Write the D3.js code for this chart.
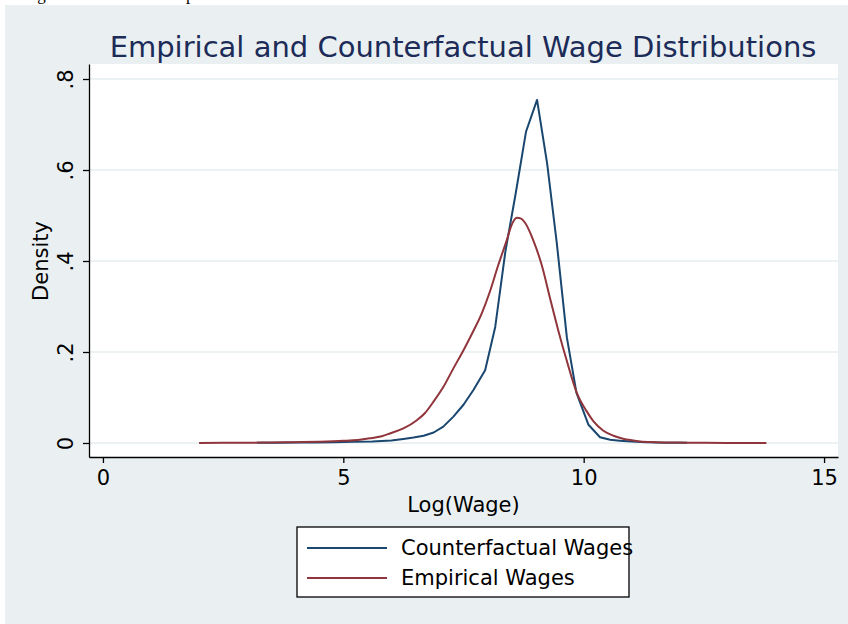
<!DOCTYPE html>
<html>
<head>
<meta charset="utf-8">
<script src="https://cdn.jsdelivr.net/npm/d3@7"></script>
<style>
  body { margin: 0; background: #ffffff; }
  svg { display: block; }
  text { font-family: "DejaVu Sans", sans-serif; }
</style>
</head>
<body>
<svg class="chart"></svg>
<script>
//-----------------------------------------------------------------------
// kernel density lines: empirical vs counterfactual log wages
//-----------------------------------------------------------------------
const width = 848
const height = 624

// counterfactual wages (density)
const cfX = [3.20, 3.60, 4.00, 4.40, 4.80, 5.20, 5.60, 6.00, 6.25, 6.46, 6.67, 6.88, 7.08, 7.29,
  7.50, 7.71, 7.95, 8.16, 8.37, 8.58, 8.80, 9.03, 9.24, 9.44, 9.65, 9.85, 10.10, 10.34,
  10.55, 10.75, 11.00, 11.30, 11.70, 12.15]
const cfY = [0.0003, 0.0005, 0.0008, 0.0012, 0.0018, 0.0025, 0.0035, 0.0055, 0.009, 0.012, 0.016, 0.023, 0.036, 0.058,
  0.084, 0.117, 0.160, 0.255, 0.420, 0.545, 0.684, 0.754, 0.614, 0.440, 0.232, 0.110, 0.040, 0.0125,
  0.007, 0.005, 0.003, 0.0015, 0.0007, 0.0003]

// empirical wages
const empX = [2.0, 2.5, 3.0, 3.5, 4.0, 4.5, 5.0, 5.3, 5.55, 5.8, 5.97, 6.25, 6.53, 6.7, 6.87, 7.08,
  7.29, 7.50, 7.70, 7.88, 8.05, 8.22, 8.40, 8.50, 8.61, 8.70, 8.78, 8.95, 9.13, 9.30, 9.47,
  9.65, 9.85, 10.06, 10.20, 10.41, 10.62, 10.82, 11.0, 11.17, 11.5, 12.0, 12.5, 13.0, 13.8]
const empY = [0.0002, 0.0003, 0.0006, 0.001, 0.0017, 0.0028, 0.0048, 0.0068, 0.0103, 0.015, 0.021, 0.032, 0.050, 0.066, 0.090, 0.123,
  0.164, 0.204, 0.245, 0.285, 0.333, 0.390, 0.446, 0.479, 0.495, 0.493, 0.484, 0.446, 0.390, 0.318, 0.248,
  0.180, 0.112, 0.070, 0.048, 0.027, 0.016, 0.0095, 0.006, 0.0035, 0.0018, 0.0008, 0.0004, 0.0002, 0.0001]

const xTicks = [0, 5, 10, 15]
const yTicks = [0, 0.2, 0.4, 0.6, 0.8]
const yTickLabels = ["0", ".2", ".4", ".6", ".8"]
const seriesNames = ["Counterfactual Wages", "Empirical Wages"]
const seriesColors = ["#1a476f", "#90353b"]

const plot = ({left: 89, right: 838, top: 64, bottom: 457})

const svg = d3.select('svg.chart')
  .attr('width', width)
  .attr('height', height)

// outer graph region
svg.append('rect')
  .attr('x', 5).attr('y', 5)
  .attr('width', width - 5).attr('height', height - 5)
  .attr('fill', '#eaf0f2')

// bit of page caption peeking in at the very top
svg.append('text')
  .attr('x', 23).attr('y', 0)
  .style('font-family', '"Liberation Serif", serif')
  .style('font-size', '17px')
  .attr('fill', '#000')
  .text('Figure 4: Simulated Empirical')

// plot region
svg.append('rect')
  .attr('x', plot.left).attr('y', plot.top)
  .attr('width', plot.right - plot.left).attr('height', plot.bottom - plot.top)
  .attr('fill', '#ffffff')

const xScale = d3.scaleLinear()
  .domain([-0.29, 15.29])
  .range([plot.left, plot.right])

const yScale = d3.scaleLinear()
  .domain([-0.0308, 0.833])
  .range([plot.bottom, plot.top])

// grid lines
svg.append('g')
  .selectAll('line')
  .data(yTicks)
  .join('line')
    .attr('x1', plot.left).attr('x2', plot.right)
    .attr('y1', d => yScale(d)).attr('y2', d => yScale(d))
    .attr('stroke', '#e6eef1')
    .attr('stroke-width', 1.5)

// axes
const xAxis = d3.axisBottom(xScale)
  .tickValues(xTicks)
  .tickSize(6)
  .tickSizeOuter(0)
  .tickFormat(d3.format('d'))

const xAxisGroup = svg.append('g')
  .attr('class', 'xAxis')
  .attr('transform', `translate(0, ${plot.bottom})`)
  .call(xAxis)

xAxisGroup.selectAll('text')
  .attr('y', 13)
  .style('font-size', '21px')
  .attr('fill', '#000')

const yAxis = d3.axisLeft(yScale)
  .tickValues(yTicks)
  .tickSize(6)
  .tickSizeOuter(0)
  .tickFormat((d, i) => yTickLabels[i])

const yAxisGroup = svg.append('g')
  .attr('class', 'yAxis')
  .attr('transform', `translate(${plot.left}, 0)`)
  .call(yAxis)

yAxisGroup.selectAll('.tick text')
  .attr('x', null).attr('dy', null)
  .attr('text-anchor', 'middle')
  .attr('transform', 'translate(-16, 0) rotate(-90)')
  .style('font-size', '21px')
  .attr('fill', '#000')

svg.selectAll('.domain, .tick line')
  .attr('stroke', '#000')
  .attr('stroke-width', 1.3)

// axis titles
svg.append('text')
  .attr('x', (xScale(0) + xScale(15)) / 2)
  .attr('y', 512)
  .attr('text-anchor', 'middle')
  .style('font-size', '21px')
  .text('Log(Wage)')

svg.append('text')
  .attr('transform', `translate(48, ${yScale(0.4)}) rotate(-90)`)
  .attr('text-anchor', 'middle')
  .style('font-size', '21px')
  .text('Density')

// title
svg.append('text')
  .attr('x', 463)
  .attr('y', 57)
  .attr('text-anchor', 'middle')
  .style('font-size', '29px')
  .attr('fill', '#1c2b58')
  .text('Empirical and Counterfactual Wage Distributions')

// lines
const cfData = cfX.map((x, i) => ({x: x, y: cfY[i]}))
const empData = empX.map((x, i) => ({x: x, y: empY[i]}))

const lineStraight = d3.line()
  .x(d => xScale(d.x))
  .y(d => yScale(d.y))

const lineSmooth = d3.line()
  .curve(d3.curveMonotoneX)
  .x(d => xScale(d.x))
  .y(d => yScale(d.y))

svg.append('path')
  .datum(cfData)
  .attr('fill', 'none')
  .attr('stroke', seriesColors[0])
  .attr('stroke-width', 2)
  .attr('stroke-linejoin', 'round')
  .attr('d', lineStraight)

svg.append('path')
  .datum(empData)
  .attr('fill', 'none')
  .attr('stroke', seriesColors[1])
  .attr('stroke-width', 2)
  .attr('stroke-linejoin', 'round')
  .attr('d', lineSmooth)

// legend
const legend = svg.append('g').attr('transform', 'translate(297, 527)')

legend.append('rect')
  .attr('x', 0).attr('y', 0)
  .attr('width', 332).attr('height', 70)
  .attr('fill', '#ffffff')
  .attr('stroke', '#000')
  .attr('stroke-width', 1.3)

const items = legend.selectAll('g.item')
  .data(seriesNames)
  .join('g')
    .attr('class', 'item')
    .attr('transform', (d, i) => `translate(0, ${21 + i * 30})`)

items.append('line')
  .attr('x1', 10).attr('x2', 90)
  .attr('stroke', (d, i) => seriesColors[i])
  .attr('stroke-width', 2)

items.append('text')
  .attr('x', 104)
  .attr('y', 7)
  .style('font-size', '21px')
  .attr('fill', '#000')
  .text(d => d)
</script>
</body>
</html>
